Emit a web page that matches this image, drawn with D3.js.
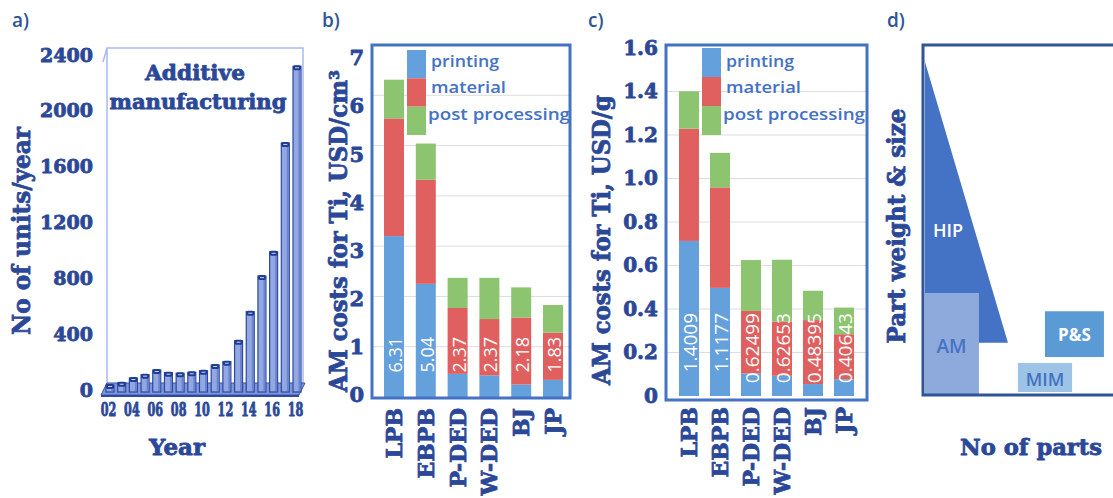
<!DOCTYPE html>
<html>
<head>
<meta charset="utf-8">
<script src="https://cdn.jsdelivr.net/npm/d3@7"></script>
<style>
  body { margin: 0; background: #fff; }
  svg { display: block; }
  .serif { font-family: "DejaVu Serif", serif; font-weight: bold; fill: #2B4898; stroke: #2B4898; stroke-width: 0.8px; stroke-linejoin: round; }
  .sans { font-family: "Open Sans", "Noto Sans", sans-serif; }
</style>
</head>
<body>
<svg id="chart" width="1113" height="498"></svg>
<script>
// ---------- a) AM units sold per year ----------
const years = ["02","03","04","05","06","07","08","09","10","11","12","13","14","15","16","17","18"];
const unitsPerYear = [36, 52, 86, 110, 143, 124, 120, 127, 138, 179, 203, 353, 561, 816, 990, 1770, 2319];
const unitTicks = [0, 400, 800, 1200, 1600, 2000, 2400];

// ---------- b) / c) AM cost breakdown for Ti ----------
const processes = ["LPB", "EBPB", "P-DED", "W-DED", "BJ", "JP"];
const costSeries = ["printing", "material", "post processing"];
const costColors = ["#64A1DC", "#E0605F", "#8CC46F"];

// cost per volume, USD/cm3
const volPrinting = [3.20, 2.25, 0.46, 0.43, 0.25, 0.34];
const volMaterial = [2.34, 2.07, 1.31, 1.12, 1.33, 0.94];
const volTotal    = [6.31, 5.04, 2.37, 2.37, 2.18, 1.83];
const volTicks    = [0, 1, 2, 3, 4, 5, 6, 7];

// cost per mass, USD/g
const massPrinting = [0.713, 0.497, 0.104, 0.093, 0.055, 0.077];
const massMaterial = [0.516, 0.462, 0.287, 0.249, 0.294, 0.207];
const massTotal    = [1.4009, 1.1177, 0.62499, 0.62653, 0.48395, 0.40643];
const massTicks    = [0, 0.2, 0.4, 0.6, 0.8, 1.0, 1.2, 1.4, 1.6];

// ---------- d) process windows: number of parts vs part weight & size ----------
const windowNames  = ["HIP", "AM", "P&S", "MIM"];
const windowColors = ["#4472C4", "#8EA9DB", "#5B9BD5", "#9DC3E6"];
const windowText   = ["#FFFFFF", "#4472C4", "#FFFFFF", "#4472C4"];
// shape outlines in (parts, weight) units, 0..100
const windowShapes = [
  [[0, 95.4], [43.2, 14.7], [0, 14.7]],
  [[0, 0], [28.1, 0], [28.1, 29], [0, 29]],
  [[62.5, 10.6], [93.2, 10.6], [93.2, 23.8], [62.5, 23.8]],
  [[48.4, 0.6], [76.6, 0.6], [76.6, 8.9], [48.4, 8.9]]
];
const windowLabelAt = [[12, 47], [13.8, 13.8], [77.8, 17.2], [62.5, 4.3]];

const svg = d3.select("#chart");
const serifBlue = "#2B4898";

// panel letters
const panelLetters = ["a)", "b)", "c)", "d)"];
const panelLetterX = [12, 322, 588, 887];
svg.selectAll("text.letter").data(panelLetters).join("text")
  .attr("class", "letter sans")
  .attr("x", (d, i) => panelLetterX[i]).attr("y", 27)
  .attr("font-size", 19).attr("font-weight", 600)
  .attr("fill", "#2F5597").text(d => d);

// ================= panel a =================
{
  const g = svg.append("g");
  const xA = d3.scalePoint(years, [110, 297]);
  const yA = d3.scaleLinear([0, 2400], [390, 55]);

  // back wall outline
  g.append("path")
    .attr("d", `M107,386 L107,48 L303,48 L303,386 M103,62 L107,48`)
    .attr("fill", "none").attr("stroke", "#A9B9EA").attr("stroke-width", 1.5);

  // floor slab
  g.append("path")
    .attr("d", "M107,383 L305,383 L299,395 L101,395 Z")
    .attr("fill", "#7E97DA").attr("stroke", "#3753AA").attr("stroke-width", 1);
  g.append("line").attr("x1", 101).attr("x2", 299).attr("y1", 396).attr("y2", 396)
    .attr("stroke", "#2E4AA0").attr("stroke-width", 2);

  // bars
  const bw = 8;
  const bars = g.selectAll("g.bar").data(unitsPerYear).join("g").attr("class", "bar");
  bars.append("rect")
    .attr("x", (d, i) => xA(years[i]) - bw / 2)
    .attr("y", d => yA(d))
    .attr("width", bw)
    .attr("height", d => yA(0) + 2 - yA(d))
    .attr("fill", "#93A8E2").attr("stroke", "#2B48A0").attr("stroke-width", 1.2);
  bars.append("rect")
    .attr("x", (d, i) => xA(years[i]) + bw / 2 - 2.5)
    .attr("y", d => yA(d) + 3)
    .attr("width", 2)
    .attr("height", d => Math.max(0, yA(0) + 1 - yA(d) - 3))
    .attr("fill", "#6A84CF");
  bars.append("rect")
    .attr("x", (d, i) => xA(years[i]) - bw / 2)
    .attr("y", d => yA(d) - 1)
    .attr("width", bw).attr("height", 5).attr("rx", 1.8)
    .attr("fill", "#1F3C93");
  bars.append("line")
    .attr("x1", (d, i) => xA(years[i]) - 2)
    .attr("x2", (d, i) => xA(years[i]) + 2)
    .attr("y1", d => yA(d) + 1.5).attr("y2", d => yA(d) + 1.5)
    .attr("stroke", "#C9D4F4").attr("stroke-width", 1);

  // y axis labels
  const ay = d3.axisLeft(yA).tickValues(unitTicks).tickSize(0).tickPadding(0).tickFormat(d3.format("d"));
  const ayG = g.append("g").attr("transform", "translate(93,0)").call(ay);
  ayG.select(".domain").remove();
  ayG.selectAll("text").attr("class", "serif").attr("font-size", 19).attr("fill", serifBlue);

  // x axis labels (every other year), narrow and tall
  const ax = d3.axisBottom(xA).tickValues(years.filter((d, i) => i % 2 === 0)).tickSize(0).tickPadding(0);
  const axG = g.append("g").attr("transform", "translate(-2,402)").call(ax);
  axG.select(".domain").remove();
  axG.selectAll("text").attr("class", "serif").attr("font-size", 16).attr("fill", serifBlue)
    .attr("transform", "scale(0.7,1.2)");

  // title inside the wall
  g.append("text").attr("class", "serif").attr("x", 195).attr("y", 80)
    .attr("text-anchor", "middle").attr("font-size", 21)
    .attr("textLength", 100).attr("lengthAdjust", "spacingAndGlyphs").text("Additive");
  g.append("text").attr("class", "serif").attr("x", 198).attr("y", 109)
    .attr("text-anchor", "middle").attr("font-size", 21)
    .attr("textLength", 177).attr("lengthAdjust", "spacingAndGlyphs").text("manufacturing");

  // axis titles
  g.append("text").attr("class", "serif")
    .attr("transform", "translate(30,231) rotate(-90)")
    .attr("text-anchor", "middle").attr("font-size", 25)
    .attr("textLength", 208).attr("lengthAdjust", "spacingAndGlyphs").text("No of units/year");
  g.append("text").attr("class", "serif").attr("x", 177).attr("y", 455)
    .attr("text-anchor", "middle").attr("font-size", 23)
    .attr("textLength", 56).attr("lengthAdjust", "spacingAndGlyphs").text("Year");
}

// ================= panels b and c =================
function costPanel(o) {
  const g = svg.append("g");
  const rows = processes.map((p, i) => ({
    process: p,
    "printing": o.printing[i],
    "material": o.material[i],
    "post processing": o.total[i] - o.printing[i] - o.material[i]
  }));
  const stacked = d3.stack().keys(costSeries)(rows);
  const x = d3.scalePoint(processes, o.xRange);
  const y = d3.scaleLinear([0, o.ticks[o.ticks.length - 1]], o.yRange);
  const bw = 20;

  // gridlines
  g.selectAll("line.grid").data(o.ticks.slice(1, -1)).join("line")
    .attr("x1", o.frame[0]).attr("x2", o.frame[2])
    .attr("y1", d => y(d)).attr("y2", d => y(d))
    .attr("stroke", "#DDDDDD").attr("stroke-width", 1);

  // stacked bars
  g.selectAll("g.series").data(stacked).join("g")
    .attr("fill", (d, i) => costColors[i])
    .selectAll("rect").data(d => d).join("rect")
    .attr("x", d => x(d.data.process) - bw / 2)
    .attr("y", d => y(d[1]))
    .attr("width", bw)
    .attr("height", d => y(d[0]) - y(d[1]));

  // total labels inside the bars
  g.selectAll("text.total").data(o.total).join("text")
    .attr("class", "sans")
    .attr("transform", (d, i) => `translate(${x(processes[i]) + 1},${y(0) - o.labelLift}) rotate(-90)`)
    .attr("text-anchor", "end").attr("dominant-baseline", "central")
    .attr("font-size", o.labelSize).attr("fill", "#FFFFFF")
    .text(o.labelFmt);

  // frame
  g.append("rect")
    .attr("x", o.frame[0]).attr("y", o.frame[1])
    .attr("width", o.frame[2] - o.frame[0]).attr("height", o.frame[3] - o.frame[1])
    .attr("fill", "none").attr("stroke", "#4472C4").attr("stroke-width", 3);

  // legend
  const ly = d3.scaleBand(costSeries, o.legendSwatchY);
  g.selectAll("rect.sw").data(costSeries).join("rect")
    .attr("x", o.legendX).attr("y", d => ly(d))
    .attr("width", 19).attr("height", ly.bandwidth())
    .attr("fill", (d, i) => costColors[i]);
  const lt = d3.scalePoint(costSeries, o.legendTextY);
  g.selectAll("text.lg").data(costSeries).join("text")
    .attr("class", "sans")
    .attr("x", (d, i) => o.legendX + 24 - (i === 2 ? 3 : 0))
    .attr("y", d => lt(d)).attr("dominant-baseline", "central")
    .attr("font-size", 17).attr("font-weight", 600).attr("fill", "#4472C4")
    .attr("textLength", (d, i) => [68, 75, 142][i]).attr("lengthAdjust", "spacingAndGlyphs")
    .text(d => d);

  // y tick labels
  const ty = o.tickLabelScale || y;
  const ay = d3.axisLeft(ty).tickValues(o.ticks).tickSize(0).tickPadding(0).tickFormat(o.tickFmt);
  const ayG = g.append("g").attr("transform", `translate(${o.tickX},0)`).call(ay);
  ayG.select(".domain").remove();
  ayG.selectAll("text").attr("class", "serif").attr("font-size", o.tickSize).attr("fill", serifBlue);

  // category labels, rotated
  g.selectAll("text.cat").data(processes).join("text")
    .attr("class", "serif")
    .attr("transform", d => `translate(${x(d)},${o.catTop}) rotate(-90)`)
    .attr("text-anchor", "end").attr("dominant-baseline", "central")
    .attr("font-size", 22).attr("fill", serifBlue)
    .text(d => d);

  // y title
  g.append("text").attr("class", "serif")
    .attr("transform", `translate(${o.titleX},${o.titleY}) rotate(-90)`)
    .attr("text-anchor", "middle").attr("dominant-baseline", "central")
    .attr("font-size", 24).attr("fill", serifBlue)
    .attr("textLength", o.titleLen).attr("lengthAdjust", "spacingAndGlyphs")
    .text(o.title);
}

costPanel({
  printing: volPrinting, material: volMaterial, total: volTotal, ticks: volTicks,
  xRange: [394, 553], yRange: [397, 45], frame: [372, 45, 570, 398],
  tickLabelScale: d3.scaleLinear([0, 7], [395, 58]),
  tickFmt: d3.format("d"), tickX: 364, tickSize: 21,
  labelFmt: d => d.toFixed(2), labelLift: 60, labelSize: 18,
  legendX: 407, legendSwatchY: [50, 135], legendTextY: [60, 113],
  catTop: 408, title: "AM costs for Ti, USD/cm³", titleX: 338, titleY: 231, titleLen: 322
});

costPanel({
  printing: massPrinting, material: massMaterial, total: massTotal, ticks: massTicks,
  xRange: [689, 844], yRange: [396, 48], frame: [666, 45, 867, 400],
  tickFmt: d => d === 0 ? "0" : d3.format(".1f")(d), tickX: 658, tickSize: 20,
  labelFmt: d => String(d), labelLift: 83, labelSize: 19,
  legendX: 702, legendSwatchY: [48, 135], legendTextY: [60, 113],
  catTop: 407, title: "AM costs for Ti, USD/g", titleX: 601, titleY: 240, titleLen: 290
});

// ================= panel d =================
{
  const g = svg.append("g");
  const xD = d3.scaleLinear([0, 100], [925, 1117]);
  const yD = d3.scaleLinear([0, 100], [394, 46]);
  const line = d3.line().x(p => xD(p[0])).y(p => yD(p[1])).curve(d3.curveLinearClosed);

  g.selectAll("path.win").data(windowShapes).join("path")
    .attr("d", d => line(d))
    .attr("fill", (d, i) => windowColors[i]);

  g.selectAll("text.win").data(windowNames).join("text")
    .attr("class", "sans")
    .attr("x", (d, i) => xD(windowLabelAt[i][0]))
    .attr("y", (d, i) => yD(windowLabelAt[i][1]))
    .attr("text-anchor", "middle").attr("dominant-baseline", "central")
    .attr("font-size", (d, i) => [18, 19, 17, 18][i])
    .attr("font-weight", (d, i) => [600, 600, 700, 600][i])
    .attr("fill", (d, i) => windowText[i])
    .text(d => d);

  g.append("rect").attr("x", 923).attr("y", 45).attr("width", 220).attr("height", 350)
    .attr("fill", "none").attr("stroke", "#2F5597").attr("stroke-width", 3);

  g.append("text").attr("class", "serif")
    .attr("transform", "translate(896,226) rotate(-90)")
    .attr("text-anchor", "middle").attr("dominant-baseline", "central")
    .attr("font-size", 24)
    .attr("textLength", 235).attr("lengthAdjust", "spacingAndGlyphs").text("Part weight & size");
  g.append("text").attr("class", "serif").attr("x", 1031).attr("y", 455)
    .attr("text-anchor", "middle").attr("font-size", 23)
    .attr("textLength", 142).attr("lengthAdjust", "spacingAndGlyphs").text("No of parts");
}
</script>
</body>
</html>
